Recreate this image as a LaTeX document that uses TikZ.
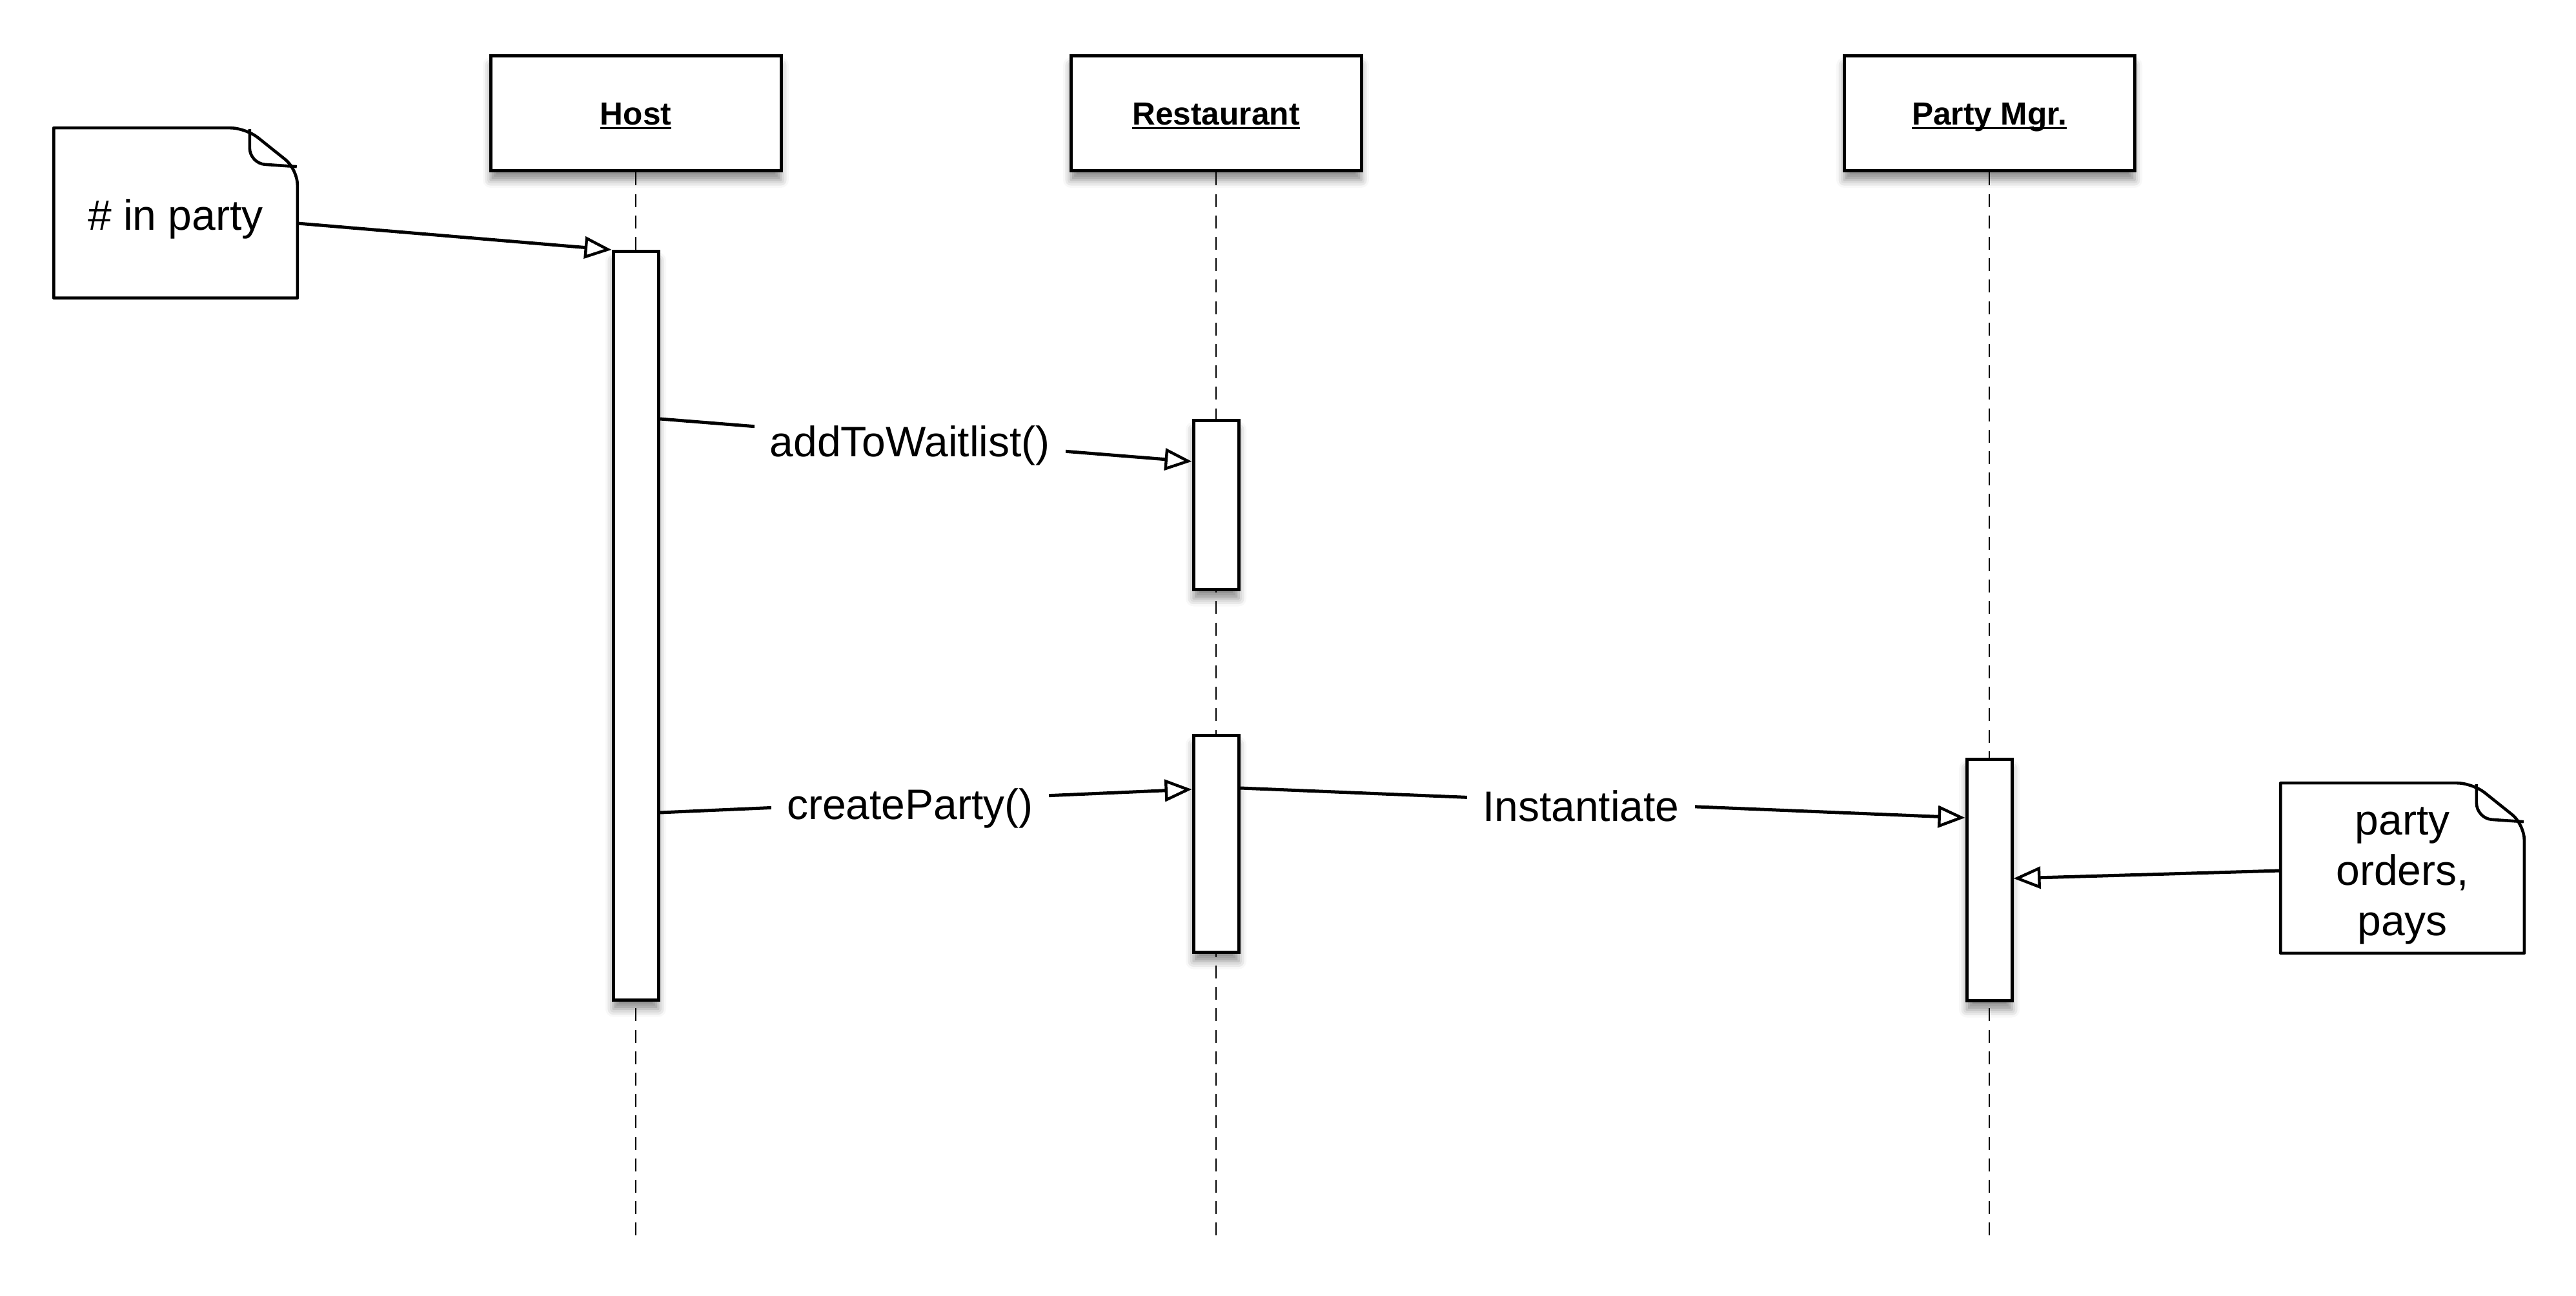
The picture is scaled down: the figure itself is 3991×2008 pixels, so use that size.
\documentclass[tikz,border=0pt]{standalone}
\usepackage{fontspec}
\setmainfont{Liberation Sans}
\usetikzlibrary{arrows.meta,calc,shadows.blur}

% bold, underlined object name with the rule just under the baseline
\newcommand\objname[1]{\setbox0=\hbox{#1}\rlap{\rule[-1.7pt]{\wd0}{0.8pt}}\box0}
% note text, set a little below the middle of its note
\newcommand\notebody[1]{\raisebox{-2.8pt}[\height][\depth]{%
  \begin{tabular}{@{}c@{}}#1\end{tabular}}}

\begin{document}
\begin{tikzpicture}[x=0.25pt,y=-0.25pt,
  softshadow/.style={blur shadow={shadow xshift=0pt,shadow yshift=-3.5pt,
      shadow blur radius=3pt,shadow opacity=45}},
  objbox/.style={draw,line width=1.25pt,fill=white,minimum width=112.5pt,
      minimum height=44.5pt,inner sep=0pt,softshadow,
      text height=8.8pt,text depth=0pt,
      font=\fontsize{12.4}{14}\selectfont\bfseries},
  actbox/.style={draw,line width=1.25pt,fill=white,minimum width=17.5pt,
      inner sep=0pt,anchor=north,softshadow},
  lifeline/.style={line width=0.65pt,dash pattern=on 5pt off 3.3pt},
  msg/.style={line width=1.25pt,
      -{Triangle[fill=white,length=10.5pt,width=8.5pt,line width=1.1pt]}},
  msglabel/.style={fill=white,inner xsep=6pt,inner ysep=2pt,yshift=-2.5pt,
      font=\fontsize{16.5}{19.5}\selectfont},
  notetext/.style={minimum width=94pt,minimum height=65.5pt,inner sep=0pt,
      align=center,font=\fontsize{16.5}{19.5}\selectfont},
  noteline/.style={line width=1.15pt,line join=round},
]
\useasboundingbox (0,0) rectangle (3991,2008);

% objects
\node[objbox] (host) at (985,176) {\objname{Host}};
\node[objbox] (rest) at (1884,176) {\objname{Restaurant}};
\node[objbox] (pm)   at (3082,176) {\objname{Party Mgr.}};

% lifelines
\coordinate (lifeend) at (0,1917);
\draw[lifeline] (host.south) -- (host.south |- lifeend);
\draw[lifeline] (rest.south) -- (rest.south |- lifeend);
\draw[lifeline] (pm.south) -- (pm.south |- lifeend);

% activations
\node[actbox,minimum height=290pt]  (hostact) at (985,387) {};
\node[actbox,minimum height=65.5pt] (ra1)     at (1884,649) {};
\node[actbox,minimum height=84pt]   (ra2)     at (1884,1137) {};
\node[actbox,minimum height=93.5pt] (pmact)   at (3082,1174) {};

% notes with a folded top-right corner
\node[notetext] (n1) at (272,330) {\notebody{\# in party}};
\draw[noteline] (n1.south west) -- (n1.north west)
  [rounded corners=6pt] -- ($(n1.north east)+(-80,0)$) -- ($(n1.north east)+(0,64)$)
  [sharp corners] -- (n1.south east) -- cycle;
\draw[noteline,rounded corners=6pt] ($(n1.north east)+(-74,2)$)
  -- ($(n1.north east)+(-74,55)$) -- ($(n1.north east)+(-1,60)$);

\node[notetext] (n2) at (3722,1345) {\notebody{party\\orders,\\pays}};
\draw[noteline] (n2.south west) -- (n2.north west)
  [rounded corners=6pt] -- ($(n2.north east)+(-80,0)$) -- ($(n2.north east)+(0,64)$)
  [sharp corners] -- (n2.south east) -- cycle;
\draw[noteline,rounded corners=6pt] ($(n2.north east)+(-74,2)$)
  -- ($(n2.north east)+(-74,55)$) -- ($(n2.north east)+(-1,60)$);

% messages
\draw[msg] ($(n1.east)+(0,16)$) -- (hostact.north west);
\draw[msg] ($(hostact.north east)+(0,262)$) -- ($(ra1.north west)+(0,66)$)
  node[msglabel,pos=0.47] (m1) {addToWaitlist()};
\draw[msg] ($(hostact.north east)+(0,872)$) -- ($(ra2.north west)+(0,86)$)
  node[msglabel,pos=0.47] (m2) {createParty()};
\draw[msg] ($(ra2.north east)+(0,84)$) -- ($(pmact.north west)+(0,93)$)
  node[msglabel,pos=0.47,yshift=1pt] (m3) {Instantiate};
\draw[msg] ($(n2.west)+(0,4)$) -- ($(pmact.north east)+(0,187)$);
\end{tikzpicture}
\end{document}
